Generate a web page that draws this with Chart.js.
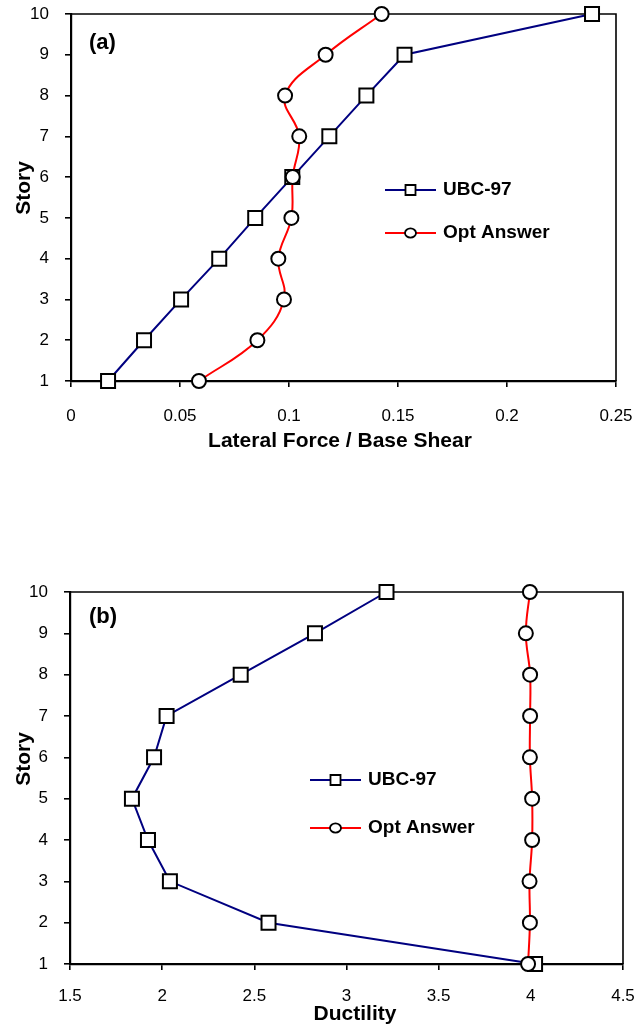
<!DOCTYPE html>
<html><head><meta charset="utf-8">
<script src="https://cdn.jsdelivr.net/npm/chart.js@4.4.1/dist/chart.umd.min.js"></script>
<style>
html,body{margin:0;padding:0;background:#fff;}
#wrap{position:relative;width:638px;height:1031px;overflow:hidden;background:#fff;}
canvas{position:absolute;left:0;}
</style></head><body>
<div id="wrap">
<canvas id="ca" width="638" height="460" style="top:0px;width:638px;height:460px"></canvas>
<canvas id="cb" width="638" height="561" style="top:470px;width:638px;height:561px"></canvas>
</div>
<script>
// ---- data ----
const stories = [1, 2, 3, 4, 5, 6, 7, 8, 9, 10];
const storyTicks = [1, 2, 3, 4, 5, 6, 7, 8, 9, 10];
const seriesNames = ['UBC-97', 'Opt Answer'];

const ubcForce = [0.017, 0.0335, 0.0505, 0.068, 0.0845, 0.1015, 0.1185, 0.1355, 0.153, 0.239];
const optForce = [0.0587, 0.0855, 0.0977, 0.0951, 0.1011, 0.1017, 0.1047, 0.0982, 0.1168, 0.1425];
const forceTicks = [0, 0.05, 0.1, 0.15, 0.2, 0.25];
const forceTickLabels = ['0', '0.05', '0.1', '0.15', '0.2', '0.25'];

const ubcDuct = [4.023, 2.577, 2.042, 1.923, 1.836, 1.956, 2.024, 2.426, 2.829, 3.217];
const optDuct = [3.985, 3.995, 3.993, 4.007, 4.007, 3.995, 3.996, 3.996, 3.973, 3.995];
const ductTicks = [1.5, 2, 2.5, 3, 3.5, 4, 4.5];
const ductTickLabels = ['1.5', '2', '2.5', '3', '3.5', '4', '4.5'];

const xTitles = ['Lateral Force / Base Shear', 'Ductility'];
const yTitle = 'Story';
const panelLabels = ['(a)', '(b)'];

Chart.defaults.font.family = '"Liberation Sans", Arial, sans-serif';
Chart.defaults.color = '#000';

function pts(xs) { return xs.map((v, i) => ({ x: v, y: stories[i] })); }

function zeroPad(s) { s.paddingLeft = 0; s.paddingRight = 0; s.paddingTop = 0; s.paddingBottom = 0; }

function overlayPlugin(o) {
  return {
    id: 'overlay_' + o.key,
    beforeDatasetsDraw(chart) {
      const { ctx, chartArea: a } = chart;
      ctx.save();
      ctx.strokeStyle = '#000';
      ctx.lineWidth = 1.6;
      ctx.beginPath();
      ctx.moveTo(a.left, a.top);
      ctx.lineTo(a.right, a.top);
      ctx.lineTo(a.right, a.bottom);
      ctx.stroke();
      ctx.restore();
    },
    afterDraw(chart) {
      const ctx = chart.ctx;
      ctx.save();
      ctx.fillStyle = '#000';
      ctx.textBaseline = 'middle';
      ctx.font = 'bold 22px "Liberation Sans", Arial, sans-serif';
      ctx.textAlign = 'left';
      ctx.fillText(o.panel, o.panelX, o.panelY);
      ctx.font = 'bold 21px "Liberation Sans", Arial, sans-serif';
      ctx.textAlign = 'center';
      ctx.fillText(o.xTitle, o.xTitleX, o.xTitleY);
      ctx.save();
      ctx.translate(o.yTitleX, o.yTitleY);
      ctx.rotate(-Math.PI / 2);
      ctx.fillText(yTitle, 0, 0);
      ctx.restore();
      const rows = [
        { name: seriesNames[0], color: '#000080', shape: 'sq', y: o.legY1 },
        { name: seriesNames[1], color: '#FF0000', shape: 'ci', y: o.legY2 }
      ];
      rows.forEach(r => {
        ctx.strokeStyle = r.color;
        ctx.lineWidth = 2;
        ctx.beginPath();
        ctx.moveTo(o.legX, r.y);
        ctx.lineTo(o.legX + 51, r.y);
        ctx.stroke();
        const mx = o.legX + 25.5;
        ctx.fillStyle = '#fff';
        ctx.strokeStyle = '#000';
        ctx.lineWidth = 1.8;
        ctx.beginPath();
        if (r.shape === 'sq') {
          ctx.rect(mx - 5, r.y - 5, 10, 10);
        } else {
          ctx.ellipse(mx, r.y, 5.5, 4.6, 0, 0, Math.PI * 2);
        }
        ctx.fill();
        ctx.stroke();
        ctx.fillStyle = '#000';
        ctx.font = 'bold 19px "Liberation Sans", Arial, sans-serif';
        ctx.textAlign = 'left';
        ctx.fillText(r.name, o.legX + 58, r.y);
      });
      ctx.restore();
    }
  };
}

function makeChart(id, o) {
  const canvas = document.getElementById(id);
  const H = canvas.height;
  return new Chart(canvas, {
    type: 'scatter',
    data: {
      datasets: [
        {
          label: seriesNames[0],
          data: pts(o.ubc),
          showLine: true,
          borderColor: '#000080',
          borderWidth: 2,
          tension: 0,
          pointStyle: 'rect',
          pointRadius: 9.9,
          pointHoverRadius: 9.9,
          pointBackgroundColor: '#fff',
          pointBorderColor: '#000',
          pointBorderWidth: 2,
          clip: false,
          order: 2
        },
        {
          label: seriesNames[1],
          data: pts(o.opt),
          showLine: true,
          borderColor: '#FF0000',
          borderWidth: 2,
          tension: 0.4,
          pointStyle: 'circle',
          pointRadius: 7,
          pointHoverRadius: 7,
          pointBackgroundColor: '#fff',
          pointBorderColor: '#000',
          pointBorderWidth: 2,
          clip: false,
          order: 1
        }
      ]
    },
    options: {
      responsive: false,
      animation: false,
      devicePixelRatio: 1,
      layout: { autoPadding: false, padding: { left: 0, top: o.top, right: 638 - o.right, bottom: 0 } },
      plugins: { legend: { display: false }, tooltip: { enabled: false } },
      scales: {
        x: {
          type: 'linear',
          min: o.xTicks[0],
          max: o.xTicks[o.xTicks.length - 1],
          afterBuildTicks: s => { s.ticks = o.xTicks.map(v => ({ value: v })); },
          afterFit: s => { s.height = H - o.bottom; zeroPad(s); },
          ticks: {
            autoSkip: false,
            maxRotation: 0,
            padding: o.xPad,
            font: { size: 17 },
            color: '#000',
            callback: (v, i) => o.xLabels[i]
          },
          grid: { display: true, drawOnChartArea: false, drawTicks: true, tickLength: 6, color: '#000', lineWidth: 1.6 },
          border: { display: true, color: '#000', width: 2.2 }
        },
        y: {
          type: 'linear',
          min: 1,
          max: 10,
          afterBuildTicks: s => { s.ticks = storyTicks.map(v => ({ value: v })); },
          afterFit: s => { s.width = o.left; zeroPad(s); },
          ticks: {
            autoSkip: false,
            padding: 16,
            font: { size: 17 },
            color: '#000',
            callback: (v, i) => String(storyTicks[i])
          },
          grid: { display: true, drawOnChartArea: false, drawTicks: true, tickLength: 6, color: '#000', lineWidth: 1.6 },
          border: { display: true, color: '#000', width: 2.2 }
        }
      }
    },
    plugins: [overlayPlugin(o)]
  });
}

makeChart('ca', {
  key: 'a', ubc: ubcForce, opt: optForce, xTicks: forceTicks, xLabels: forceTickLabels,
  left: 71, right: 616, top: 14, bottom: 381, xPad: 19,
  panel: panelLabels[0], panelX: 89, panelY: 43,
  xTitle: xTitles[0], xTitleX: 340, xTitleY: 441,
  yTitleX: 24, yTitleY: 188,
  legX: 385, legY1: 190, legY2: 233
});

makeChart('cb', {
  key: 'b', ubc: ubcDuct, opt: optDuct, xTicks: ductTicks, xLabels: ductTickLabels,
  left: 70, right: 623, top: 122, bottom: 494, xPad: 16,
  panel: panelLabels[1], panelX: 89, panelY: 147,
  xTitle: xTitles[1], xTitleX: 355, xTitleY: 544,
  yTitleX: 24, yTitleY: 289,
  legX: 310, legY1: 310, legY2: 358
});
</script>
</body></html>
